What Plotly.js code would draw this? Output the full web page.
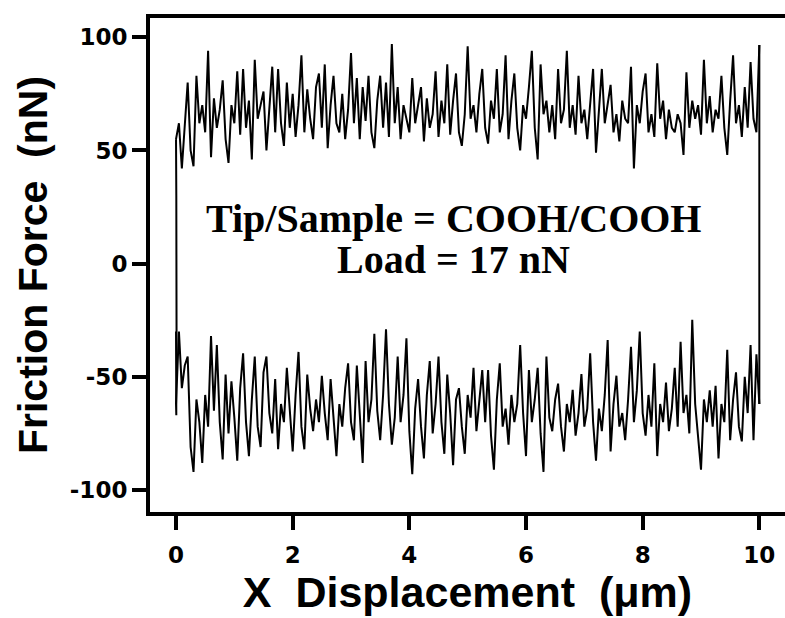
<!DOCTYPE html>
<html>
<head>
<meta charset="utf-8">
<script src="https://cdn.plot.ly/plotly-3.0.1.min.js"></script>
<style>html,body{margin:0;padding:0;background:#fff;}</style>
</head>
<body>
<div id="chart" style="width:785px;height:618px;"></div>
<script>
// Friction loop: trace (forward) and retrace (reverse), sampled every 0.05 µm from 0 to 10 µm
const stepX = 0.05;
const traceForward = [
 55,62,42,60,80,50,43,83,62,70, 58,94,47,73,60,68,81,55,44.5,70,
 62,85,57,86,60,72,46,90,64,70, 76,50,68,87,58,86,62,52,80,60,
 75,56,70,92,58,77,64,55,78,84, 60,88,51,70,83,62,58,75,55,68,
 93,62,82,55,78,63,83,58,51,72, 83,60,80,56,97,62,78,55,70,64,
 58,82,62,70,78,54,73,60,66,85, 56,72,62,88,57,72,84,58,52,66,
 96,64,70,58,75,86,60,53,72,64, 86,58,66,92,55,72,84,60,50,70,
 64,78,94,60,46,88,66,72,58,70, 55,86,62,68,94,60,70,57,83,62,
 68,55,72,86,49,66,86,62,70,79, 58,66,54,72,64,62,87,42,70,62,
 76,84,58,66,56,88.5,64,72,55,68, 60,58,66,62,48,84.5,60,72,64,70,
 57,90,62,74,58,68,64,83,60,48, 72,92,62,70,56,78,60,89,64,58,
 96.6
];
const traceReverse = [
 -62,-30,-55,-45,-41,-81,-92,-60,-70,-88, -58,-72,-32,-65,-36,-70,-86.5,-49,-75,-52,
 -68,-87,-55,-39.6,-70,-85,-60,-41,-72,-81, -48,-41,-66,-75,-51,-82,-62,-70,-46,-66,
 -83,-58,-39,-72,-82,-49,-64,-74,-60,-70, -49.5,-66,-78,-51,-68,-85,-62,-72,-55,-44,
 -70,-78,-45,-66,-88,-43,-70,-60,-31,-65, -78,-58,-29,-62,-80,-68,-41,-70,-58,-33,
 -74,-93,-64,-51,-72,-86,-58,-43,-75,-62, -41,-70,-84,-49,-66,-89,-60,-55,-72,-84,
 -58,-68,-46,-74,-62,-47,-70,-47,-76,-91, -60,-44,-72,-64,-80,-58,-70,-62,-36,-66,
 -85,-47,-70,-60,-46,-75,-92,-41,-68,-74, -60,-53,-72,-83,-62,-70,-55.7,-76,-66,-48.8,
 -72,-64,-39.6,-70,-87,-64,-74,-58,-33.7,-83, -62,-49.5,-72,-66,-78,-60,-36.7,-70,-56,-30,
 -66,-76,-58,-72,-44,-85,-62,-70,-52.5,-74, -64,-46,-72,-34.5,-66,-58,-75,-24.8,-62,-76,
 -91,-60,-70,-56,-72,-54,-86,-62,-70,-38, -78,-60,-48,-72,-78.5,-50,-66,-36,-78,-40,
 -62
];
// turnaround segments at the ends of the scan
const leftEdgeX = [0, 0.005, 0, 0.01, 0.005, 0];
const leftEdgeY = [-62, -67, -30, -45, 30, 55];
const rightEdgeX = [10, 10, 9.995, 10, 9.995, 10, 10];
const rightEdgeY = [96.6, 55, 20, -8, 18, -10, -62];

const xTicks = [0, 2, 4, 6, 8, 10];
const xTickText = ['0', '2', '4', '6', '8', '10'];
const yTicks = [-100, -50, 0, 50, 100];
const yTickText = ['-100', '-50', '0', '50', '100'];

const lineStyle = {color: '#000', width: 2};
const traces = [
  {type: 'scatter', mode: 'lines', x0: 0, dx: stepX, y: traceForward, line: lineStyle, hoverinfo: 'skip'},
  {type: 'scatter', mode: 'lines', x0: 0, dx: stepX, y: traceReverse, line: lineStyle, hoverinfo: 'skip'},
  {type: 'scatter', mode: 'lines', x: leftEdgeX, y: leftEdgeY, line: lineStyle, hoverinfo: 'skip'},
  {type: 'scatter', mode: 'lines', x: rightEdgeX, y: rightEdgeY, line: lineStyle, hoverinfo: 'skip'}
];

const tickFont = {family: 'DejaVu Sans', size: 23, color: '#000', weight: 700};
const xTitleFont = {family: 'Liberation Sans, Arial', size: 43, color: '#000', weight: 700};
const yTitleFont = {family: 'Liberation Sans, Arial', size: 41, color: '#000', weight: 700};
const noteFont = {family: 'Liberation Serif, Times New Roman', size: 40, color: '#000', weight: 700};

const layout = {
  width: 785, height: 618,
  margin: {l: 150, r: 0, t: 18, b: 106},
  paper_bgcolor: '#fff', plot_bgcolor: '#fff',
  showlegend: false,
  xaxis: {
    range: [-0.446, 10.44], tickvals: xTicks, ticktext: xTickText,
    ticks: 'outside', ticklen: 14, tickwidth: 4, tickcolor: '#000',
    showline: true, linewidth: 4, linecolor: '#000', mirror: true,
    showgrid: false, zeroline: false, tickfont: tickFont, ticklabelstandoff: 5,
    title: {text: 'X\u00A0 Displacement\u00A0 (\u03BCm)', font: xTitleFont, standoff: 8}
  },
  yaxis: {
    range: [-109.7, 108.5], tickvals: yTicks, ticktext: yTickText,
    ticks: 'outside', ticklen: 14, tickwidth: 4, tickcolor: '#000',
    showline: true, linewidth: 4, linecolor: '#000', mirror: false,
    showgrid: false, zeroline: false, tickfont: tickFont,
    title: {text: 'Friction Force\u00A0 (nN)', font: yTitleFont, standoff: 10}
  },
  annotations: [
    {xref: 'x', yref: 'y', x: 4.75, y: 19.8, text: 'Tip/Sample = COOH/COOH', showarrow: false, font: noteFont, xanchor: 'center', yanchor: 'middle'},
    {xref: 'x', yref: 'y', x: 4.75, y: 1.9, text: 'Load = 17 nN', showarrow: false, font: noteFont, xanchor: 'center', yanchor: 'middle'}
  ]
};

Plotly.newPlot('chart', traces, layout, {staticPlot: true, displayModeBar: false});
</script>
</body>
</html>
